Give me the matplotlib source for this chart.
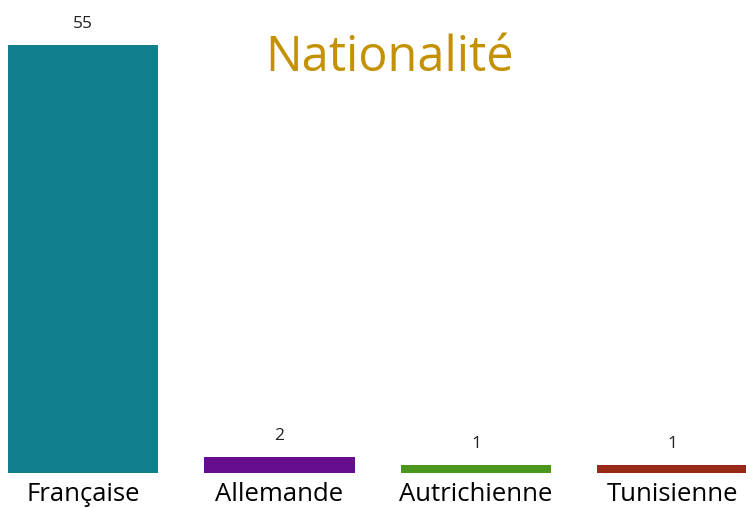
import matplotlib
matplotlib.use("Agg")
import matplotlib.pyplot as plt
import numpy as np

# données
categories = ["Française", "Allemande", "Autrichienne", "Tunisienne"]
counts = [55, 2, 1, 1]
colors = ["#117E8E", "#660D8E", "#4B961C", "#9A2A18"]

fig = plt.figure(figsize=(7.46, 5.08), dpi=100)
ax = fig.add_axes([0, 35 / 508, 1, 473 / 508])

x = np.arange(len(categories))
bars = ax.bar(x, counts, width=0.765, color=colors)

ax.set_xlim(-83 / 196.5, (746 - 83) / 196.5)
ax.set_ylim(0, 60.8)

# valeurs au-dessus des barres
for xi, v in zip(x, counts):
    ax.text(xi, v + 2.7, str(v), ha="center", va="center",
            fontsize=12.5, color="#222222", family="Open Sans")

# étiquettes de catégories
for xi, lab in zip(x, categories):
    ax.text(xi, -2.7, lab, ha="center", va="center", fontsize=18.5,
            color="black", family="Open Sans", clip_on=False)

ax.set_axis_off()

fig.text(390 / 746, 1 - 58 / 508, "Nationalité", ha="center", va="center",
         fontsize=35, color="#C49100", family="Open Sans")

fig.savefig("out.png", dpi=100)
